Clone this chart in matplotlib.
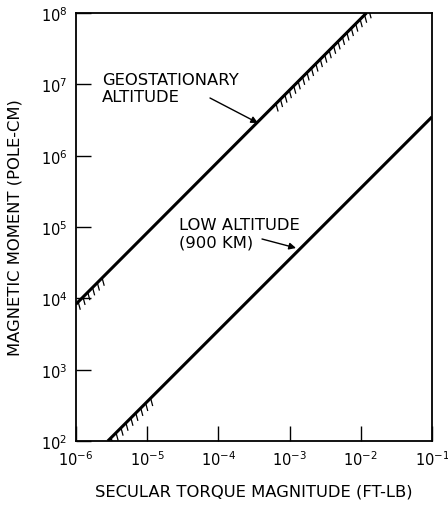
import numpy as np
import matplotlib.pyplot as plt
import matplotlib.patheffects as pe

plt.rcParams['font.family'] = ['DejaVu Sans']

# line end points (torque ft-lb, moment pole-cm)
geo_torque = [1.0e-6, 1.2e-2]
geo_moment = [8.3e3, 1.0e8]
low_torque = [2.8e-6, 1.0e-1]
low_moment = [1.0e2, 3.5e6]

# stretches of each line that carry the hatch marks
geo_hatch = [(1.0e-6, 2.5e-6), (6.0e-4, 1.4e-2)]
low_hatch = [(2.9e-6, 1.2e-5)]

xticks = [1e-6, 1e-5, 1e-4, 1e-3, 1e-2, 1e-1]
xtick_labels = ['$10^{-6}$', '$10^{-5}$', '$10^{-4}$', '$10^{-3}$', '$10^{-2}$', '$10^{-1}$']
yticks = [1e2, 1e3, 1e4, 1e5, 1e6, 1e7, 1e8]
ytick_labels = ['$10^{%d}$' % k for k in range(2, 9)]


def on_line(t, ts, ms):
    lt = np.log10(ts)
    lm = np.log10(ms)
    slope = (lm[1] - lm[0]) / (lt[1] - lt[0])
    return 10 ** (lm[0] + slope * (np.log10(t) - lt[0]))


fig = plt.figure(figsize=(4.48, 5.06), dpi=100)
ax = fig.add_axes([0.1696, 0.1265, 0.9643 - 0.1696, 0.9723 - 0.1265])

ax.plot(geo_torque, geo_moment, color='black', lw=2.2, solid_capstyle='butt')
ax.plot(low_torque, low_moment, color='black', lw=2.2, solid_capstyle='butt')

# short hatch ticks on the lower-right side of each line
tick_fx = [pe.withTickedStroke(angle=-120, spacing=4.5, length=1.2, linewidth=0.9)]
for ts, ms, parts in [(geo_torque, geo_moment, geo_hatch), (low_torque, low_moment, low_hatch)]:
    for a, b in parts:
        tt = np.array([a, b])
        ax.plot(tt, on_line(tt, ts, ms), color='black', lw=1.0, path_effects=tick_fx)

ax.set_xscale('log')
ax.set_yscale('log')
ax.set_xlim(1e-6, 1e-1)
ax.set_ylim(1e2, 1e8)
ax.set_xticks(xticks)
ax.set_xticklabels(xtick_labels)
ax.set_yticks(yticks)
ax.set_yticklabels(ytick_labels)
ax.minorticks_off()
ax.tick_params(axis='both', direction='in', length=11, width=1.0, labelsize=10.5, pad=6)
for s in ax.spines.values():
    s.set_linewidth(1.3)

ax.set_xlabel('SECULAR TORQUE MAGNITUDE (FT-LB)', fontsize=11.8, labelpad=11)
ax.set_ylabel('MAGNETIC MOMENT (POLE-CM)', fontsize=11.8, labelpad=13)

ax.text(102, 506 - 89, 'GEOSTATIONARY\nALTITUDE', transform=None,
        fontsize=11.8, va='center', ha='left', linespacing=1.2)
ax.annotate('', xy=(258, 506 - 124), xycoords='figure pixels',
            xytext=(210, 506 - 99), textcoords='figure pixels',
            arrowprops=dict(arrowstyle='-|>', color='black', lw=1.0,
                            shrinkA=0, shrinkB=0, mutation_scale=10))
ax.text(179, 506 - 234, 'LOW ALTITUDE\n(900 KM)', transform=None,
        fontsize=11.8, va='center', ha='left', linespacing=1.2)
ax.annotate('', xy=(296, 506 - 249), xycoords='figure pixels',
            xytext=(262, 506 - 240), textcoords='figure pixels',
            arrowprops=dict(arrowstyle='-|>', color='black', lw=1.0,
                            shrinkA=0, shrinkB=0, mutation_scale=10))

fig.savefig('out.png', dpi=100)
